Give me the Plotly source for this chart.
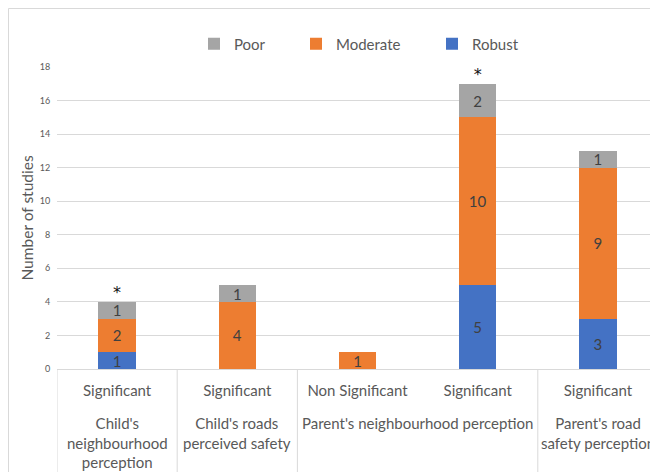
import plotly.graph_objects as go

groups = ["Child's<br>neighbourhood<br>perception", "Child's roads<br>perceived safety",
          "Parent's neighbourhood perception", "Parent's neighbourhood perception",
          "Parent's road<br>safety perception"]
subs = ["Significant", "Significant", "Non Significant", "Significant", "Significant"]
robust = [1, None, None, 5, 3]
moderate = [2, 4, 1, 10, 9]
poor = [1, 1, None, 2, 1]
totals = [4, 5, 1, 17, 13]
stars = ["*", "", "", "*", ""]

xs = list(range(len(subs)))
FONT = "Lato"
GREY = "#595959"
LINE = "#d9d9d9"

# page body has an 8px margin, so the figure is sized to fit the window
W, H = 650, 464
l, r, t, b = 49, 0, 59, 103
pw = W - l - r
ph = H - t - b

fig = go.Figure()
for name, vals, col, lw in [("Robust", robust, "#4472C4", 60), ("Moderate", moderate, "#ED7D31", 91),
                            ("Poor", poor, "#A5A5A5", 57)]:
    fig.add_trace(go.Bar(x=xs, y=vals, name=name, marker=dict(color=col, line=dict(width=0)),
                         texttemplate="%{y}", textposition="inside", legendwidth=lw,
                         insidetextanchor="middle", textangle=0, constraintext="none",
                         textfont=dict(family=FONT, size=15, color="#404040")))
fig.add_trace(go.Scatter(x=xs, y=totals, mode="text", text=stars, textposition="top center",
                         textfont=dict(family="DejaVu Sans", size=16, color="#111111"), showlegend=False,
                         hoverinfo="skip"))

annotations = []
seen = []
for g in groups:
    if g not in seen:
        seen.append(g)
for g in seen:
    idx = [i for i, gg in enumerate(groups) if gg == g]
    annotations.append(dict(x=sum(idx) / len(idx), xref="x", y=-(404 - (H - b)) / ph, yref="paper",
                            yanchor="top", xanchor="center", text=g, showarrow=False,
                            font=dict(family=FONT, size=15, color=GREY), align="center"))

bounds = [-0.5]
for i in range(1, len(groups)):
    if groups[i] != groups[i - 1]:
        bounds.append(i - 0.5)
bounds.append(len(groups) - 0.5)
shapes = [dict(type="line", xref="x", yref="paper", x0=bx, x1=bx, y0=0, y1=-0.5,
               line=dict(color=LINE, width=1)) for bx in bounds]
shapes.append(dict(type="rect", xref="paper", yref="paper",
                   x0=(0.5 - l) / pw, x1=1.1, y0=-0.5, y1=1 + (t - 0.5) / ph,
                   line=dict(color=LINE, width=1), fillcolor="rgba(0,0,0,0)", layer="below"))

fig.update_layout(
    width=W, height=H, barmode="stack", bargap=0.69,
    margin=dict(l=l, r=r, t=t, b=b, autoexpand=False),
    paper_bgcolor="white", plot_bgcolor="white",
    font=dict(family=FONT, color=GREY),
    legend=dict(orientation="h", x=(194 - 8 - l) / pw, xanchor="left", y=1 + (t - 36) / ph,
                yanchor="middle", traceorder="reversed", font=dict(size=15, color=GREY)),
    xaxis=dict(tickmode="array", tickvals=xs, ticktext=subs, range=[-0.5, len(subs) - 0.5],
               showline=True, linecolor=LINE, linewidth=1, showgrid=False, zeroline=False,
               ticks="outside", ticklen=8, tickcolor="rgba(0,0,0,0)", automargin=False,
               tickfont=dict(family=FONT, size=15, color=GREY)),
    yaxis=dict(range=[0, 18], dtick=2, showgrid=True, gridcolor=LINE, gridwidth=1,
               zeroline=False, tickfont=dict(family=FONT, size=9, color=GREY),
               ticks="outside", ticklen=4, tickcolor="rgba(0,0,0,0)", automargin=True,
               title=dict(text="Number of studies", standoff=2,
                          font=dict(family=FONT, size=15.5, color=GREY))),
    annotations=annotations,
    shapes=shapes,
)
fig.write_html("out.html")
